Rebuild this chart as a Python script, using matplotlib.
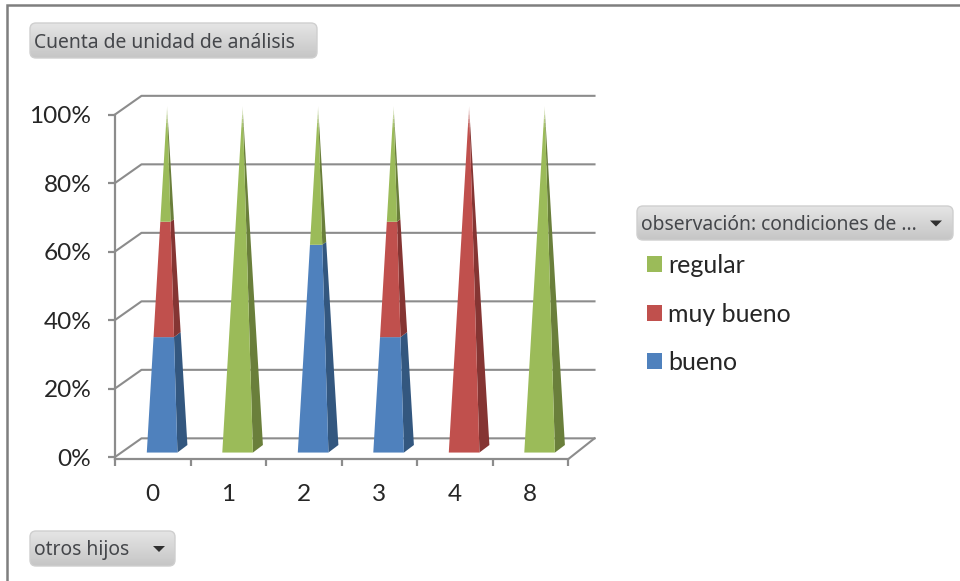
import matplotlib
matplotlib.use("Agg")
import numpy as np
import matplotlib.pyplot as plt
from matplotlib.patches import FancyBboxPatch, Polygon, Patch

categories = ["0", "1", "2", "3", "4", "8"]
bueno = [33.33, 0, 60, 33.33, 0, 0]
muy_bueno = [33.33, 0, 0, 33.33, 100, 0]
regular = [33.34, 100, 40, 33.34, 0, 100]
percent_ticks = [0, 20, 40, 60, 80, 100]

FRONT = {"bueno": "#4F81BD", "muy bueno": "#C0504D", "regular": "#9BBB59"}
SIDE = {"bueno": "#33577F", "muy bueno": "#853533", "regular": "#6A7F3B"}
GRID = "#8C8C8C"

W, H = 960, 581
DPI = 100

# wall depth and pyramid shape, in axis units (1 per category, 1 per percent)
WALL_DX, WALL_DY = 0.351, 5.45
HALF_W, HALF_DX, HALF_DY = 0.203, 0.066, 1.1
SHIFT_X, BASE_Y, APEX_Y = 0.19, 2.4, 102.4


def lighter(color, amount):
    rgb = np.array(matplotlib.colors.to_rgb(color))
    return tuple(rgb + (1 - rgb) * amount)


def section(cx, t):
    y = BASE_Y + (APEX_Y - BASE_Y) * t
    k = 1 - t
    fl = (cx + k * (-HALF_W - HALF_DX), y - k * HALF_DY)
    fr = (cx + k * (HALF_W - HALF_DX), y - k * HALF_DY)
    br = (cx + k * (HALF_W + HALF_DX), y + k * HALF_DY)
    return fl, fr, br


def draw_slice(ax, cx, t0, t1, front, side):
    fl0, fr0, br0 = section(cx, t0)
    fl1, fr1, br1 = section(cx, t1)
    ax.add_patch(Polygon([br0, br1, fr1, fr0], fc=side, ec="none", zorder=4, clip_on=False))
    ax.add_patch(Polygon([fl0, fr0, fr1, fl1], fc=front, ec="none", zorder=5, clip_on=False))


def draw_pyramid(ax, i, parts):
    cx = i + 0.5 + SHIFT_X
    start = 0
    for name, val in parts:
        if val == 0:
            continue
        end = start + val
        t0, t1 = start / 100, end / 100
        if end >= 100:
            # the tip fades out to white
            fade = 0.94
            draw_slice(ax, cx, t0, fade, FRONT[name], SIDE[name])
            edges = np.linspace(fade, 1, 6)
            for n in range(5):
                amount = 0.1 + n * 0.14
                draw_slice(ax, cx, edges[n], edges[n + 1],
                           lighter(FRONT[name], amount), lighter(SIDE[name], amount))
        else:
            draw_slice(ax, cx, t0, t1, FRONT[name], SIDE[name])
        start = end


def draw_button(bg, x0, y0, x1, y1, label, arrow_x=None, size=13.9):
    grad = np.linspace(0.90, 0.77, 64).reshape(-1, 1)
    im = bg.imshow(grad, cmap="gray", vmin=0, vmax=1, extent=(x0, x1, y1, y0),
                   aspect="auto", zorder=2)
    box = FancyBboxPatch((x0 + 1, y0 + 1), x1 - x0 - 2, y1 - y0 - 2,
                         boxstyle="round,pad=0,rounding_size=6",
                         fc="none", ec="#CFCFCF", lw=1, zorder=3)
    bg.add_patch(box)
    im.set_clip_path(box)
    bg.text(x0 + 5, (y0 + y1) / 2 + 2, label, ha="left", va="center", fontsize=size,
            family="Noto Sans", color="#44464A", zorder=4)
    if arrow_x is not None:
        ym = (y0 + y1) / 2
        bg.add_patch(Polygon([(arrow_x - 6, ym - 2.5), (arrow_x + 6, ym - 2.5), (arrow_x, ym + 3.5)],
                             fc="#303030", ec="none", zorder=4))


fig = plt.figure(figsize=(W / DPI, H / DPI), dpi=DPI, facecolor="white")

# pixel layer for the frame and the field buttons
bg = fig.add_axes([0, 0, 1, 1], zorder=0)
bg.axis("off")
bg.plot([7, 7, W], [H, 4.5, 4.5], color="#7F7F7F", lw=1.8, solid_joinstyle="miter")
draw_button(bg, 29, 22, 318, 59, "Cuenta de unidad de análisis")
draw_button(bg, 636, 205, 954, 241, "observación: condiciones de ...", arrow_x=936)
draw_button(bg, 29, 530, 176, 567, "otros hijos", arrow_x=159)
bg.set_xlim(0, W)
bg.set_ylim(H, 0)

left, right, top, bottom = 115, 568, 114.5, 459.3
ax = fig.add_axes([left / W, (H - bottom) / H, (right - left) / W, (bottom - top) / H], zorder=1)
ax.patch.set_alpha(0)
ax.set_xlim(0, len(categories))
ax.set_ylim(-0.67, 100)

for spine in ["top", "right"]:
    ax.spines[spine].set_visible(False)
for spine in ["left", "bottom"]:
    ax.spines[spine].set_color(GRID)
    ax.spines[spine].set_linewidth(1.6)

ax.set_yticks(percent_ticks)
ax.set_yticklabels([f"{p}%" for p in percent_ticks])
ax.set_xticks(range(len(categories) + 1))
ax.set_xticklabels([])
ax.set_xticks(np.arange(len(categories)) + 0.5, minor=True)
ax.set_xticklabels(categories, minor=True)
ax.tick_params(axis="y", length=5, width=1.6, color=GRID, pad=12)
ax.tick_params(axis="x", which="major", length=5, width=1.6, color=GRID)
ax.tick_params(axis="x", which="minor", length=0, pad=18)
for lab in ax.get_yticklabels() + ax.get_xticklabels(minor=True):
    lab.set_family("Lato")
    lab.set_fontsize(17.6)
    lab.set_color("#262626")

# back wall grid and the floor edge
n = len(categories)
for p in percent_ticks:
    ax.plot([0, WALL_DX, n + WALL_DX], [p, p + WALL_DY, p + WALL_DY],
            color=GRID, lw=1.5, clip_on=False, zorder=2)
ax.plot([n, n + WALL_DX], [-0.67, WALL_DY], color=GRID, lw=1.5, clip_on=False, zorder=2)

for i in range(n):
    draw_pyramid(ax, i, [("bueno", bueno[i]), ("muy bueno", muy_bueno[i]), ("regular", regular[i])])

handles = [Patch(fc=FRONT[k], ec="none", label=k) for k in ["regular", "muy bueno", "bueno"]]
leg = ax.legend(handles=handles, loc="upper left", bbox_to_anchor=(647 / W, (H - 254) / H),
                bbox_transform=fig.transFigure, frameon=False, borderpad=0, borderaxespad=0,
                handlelength=0.6, handleheight=0.6, handletextpad=0.25, labelspacing=1.02,
                prop={"family": "Lato", "size": 18})
for txt in leg.get_texts():
    txt.set_color("#262626")

fig.savefig("out.png", dpi=DPI)
